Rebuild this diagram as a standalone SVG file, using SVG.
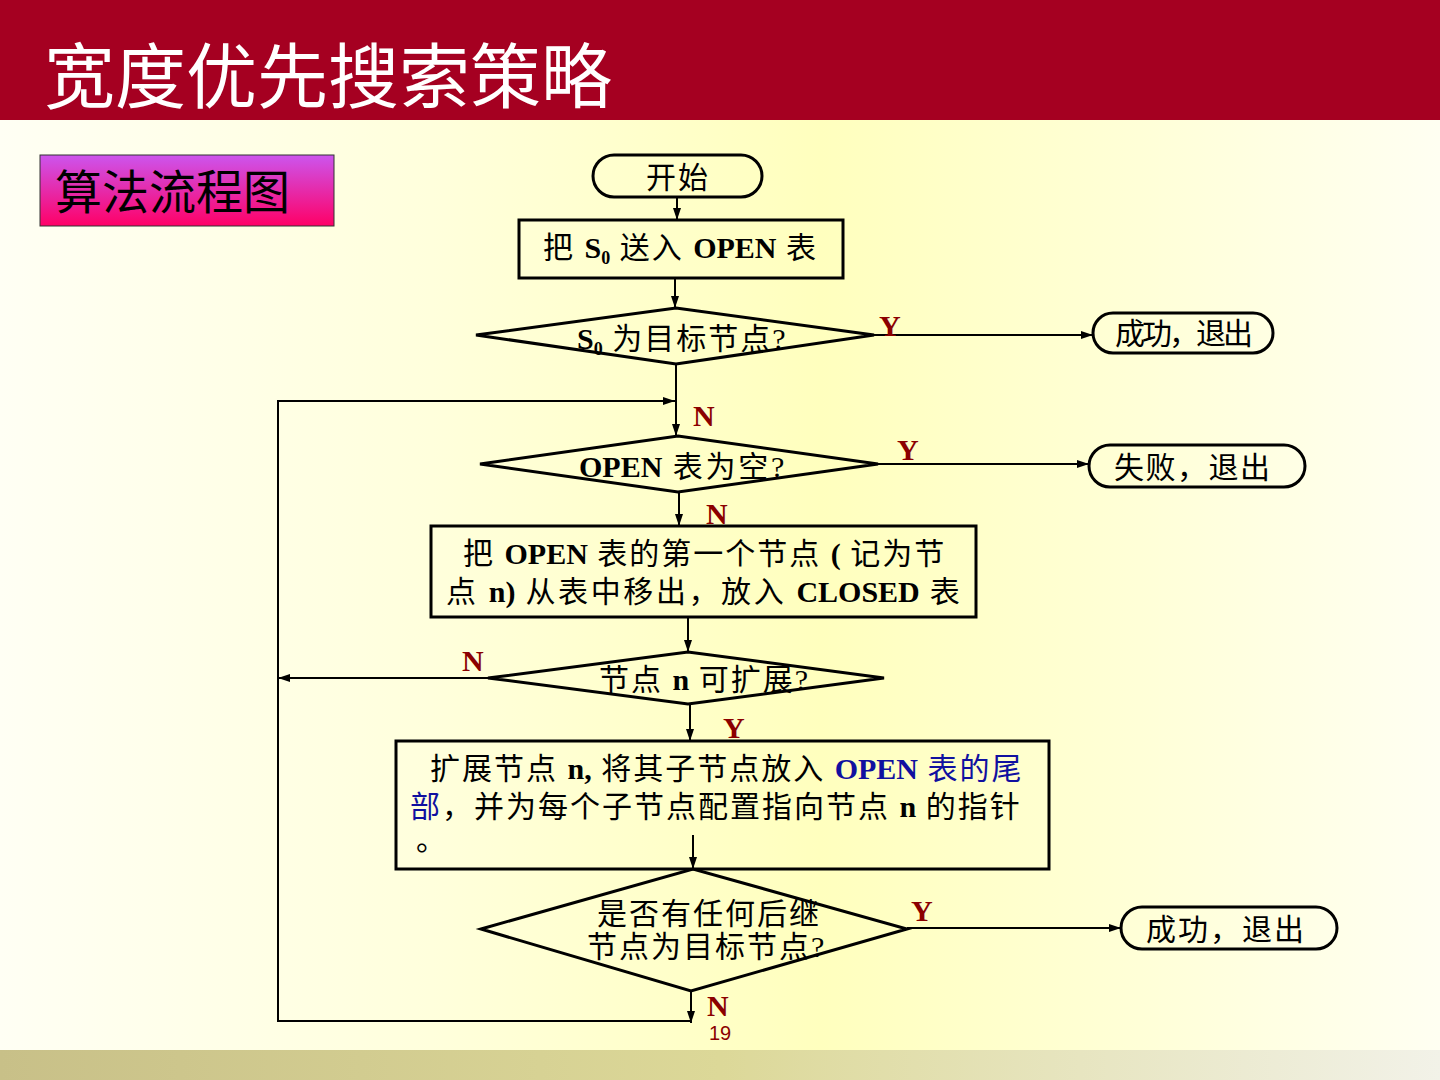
<svg xmlns="http://www.w3.org/2000/svg" width="1440" height="1080" viewBox="0 0 1440 1080">
<defs>
<linearGradient id="bg" x1="0" y1="0" x2="1" y2="0">
<stop offset="0" stop-color="#FFFFF4"/>
<stop offset="0.3" stop-color="#FFFFDC"/>
<stop offset="0.57" stop-color="#FFFFBE"/>
<stop offset="0.8" stop-color="#FFFFD8"/>
<stop offset="1" stop-color="#FFFFF2"/>
</linearGradient>
<linearGradient id="bar" x1="0" y1="0" x2="1" y2="0">
<stop offset="0" stop-color="#C8C088"/>
<stop offset="0.5" stop-color="#DCD898"/>
<stop offset="1" stop-color="#F2F2E8"/>
</linearGradient>
<linearGradient id="tag" x1="0" y1="0" x2="0" y2="1">
<stop offset="0" stop-color="#CC55EE"/>
<stop offset="1" stop-color="#FF0066"/>
</linearGradient>
<marker id="ah" markerUnits="userSpaceOnUse" markerWidth="12" markerHeight="8" refX="12" refY="4" orient="auto">
<path d="M0,0 L12,4 L0,8 z" fill="#000"/>
</marker>
<style>
.sh{fill:none;stroke:#000;stroke-width:3}
.box{fill:none;stroke:#000;stroke-width:3}
.cn{fill:none;stroke:#000;stroke-width:2;marker-end:url(#ah)}
.t{font-family:"Liberation Serif","Noto Sans CJK SC",serif;font-size:30px;fill:#000;letter-spacing:2px}
.ts{font-family:"Liberation Sans","Noto Sans CJK SC",sans-serif;font-size:30px;fill:#000}
.b{font-weight:bold;letter-spacing:0}
.yn{font-family:"Liberation Serif",serif;font-size:30px;font-weight:bold;fill:#8B0000}
.blue{fill:#1010A0}
</style>
</defs>
<rect x="0" y="0" width="1440" height="1080" fill="url(#bg)"/>
<rect x="0" y="1050" width="1440" height="30" fill="url(#bar)"/>
<rect x="0" y="0" width="1440" height="120" fill="#A50021"/>
<text x="44" y="102" font-family="Noto Sans CJK SC, sans-serif" font-size="71" fill="#FFFFFF" textLength="568" lengthAdjust="spacing">宽度优先搜索策略</text>
<g id="tag-box">
<rect x="40" y="155" width="294" height="71" fill="url(#tag)" stroke="#333" stroke-width="1"/>
<text x="55" y="209" font-family="Noto Sans CJK SC, sans-serif" font-size="47" fill="#000">算法流程图</text>
</g>
<g id="connectors">
<line class="cn" x1="677" y1="197" x2="677" y2="220"/>
<line class="cn" x1="675" y1="278" x2="675" y2="308"/>
<line class="cn" x1="874" y1="335" x2="1093" y2="335"/>
<line class="cn" x1="676" y1="364" x2="676" y2="436"/>
<line class="cn" x1="878" y1="464" x2="1089" y2="464"/>
<line class="cn" x1="679" y1="492" x2="679" y2="526"/>
<line class="cn" x1="688" y1="617" x2="688" y2="652"/>
<line class="cn" x1="488" y1="678" x2="278" y2="678"/>
<line class="cn" x1="690" y1="704" x2="690" y2="741"/>
<line class="cn" x1="693" y1="835" x2="693" y2="869"/>
<line class="cn" x1="907" y1="928" x2="1121" y2="928"/>
<line class="cn" x1="691" y1="991" x2="691" y2="1023"/>
<polyline class="cn" points="691,1021 278,1021 278,401 675,401"/>
</g>
<g id="labels">
<text class="yn" x="879" y="336">Y</text>
<text class="yn" x="693" y="426">N</text>
<text class="yn" x="897" y="460">Y</text>
<text class="yn" x="706" y="524">N</text>
<text class="yn" x="462" y="671">N</text>
<text class="yn" x="723" y="738">Y</text>
<text class="yn" x="911" y="921">Y</text>
<text class="yn" x="707" y="1016">N</text>
<text x="720" y="1040" font-family="Liberation Sans, sans-serif" font-size="20" fill="#8B0000" text-anchor="middle">19</text>
</g>
<g id="start">
<rect class="sh" x="593" y="155" width="169" height="42" rx="21" ry="21"/>
<text class="ts" x="646" y="188" textLength="62" lengthAdjust="spacing">开始</text>
</g>
<g id="step1">
<rect class="box" x="519" y="220" width="324" height="58"/>
<text class="t" x="543" y="258">把 <tspan class="b">S</tspan><tspan class="b" font-size="18" dy="6">0</tspan><tspan dy="-6"> 送入 </tspan><tspan class="b">OPEN</tspan> 表</text>
</g>
<g id="dec1">
<polygon class="sh" points="476,335 676,308 874,335 676,364"/>
<text class="t" x="577" y="349"><tspan class="b">S</tspan><tspan class="b" font-size="18" dy="6">0</tspan><tspan dy="-6"> 为目标节点?</tspan></text>
</g>
<g id="succ1">
<rect class="sh" x="1093" y="313" width="180" height="40" rx="20" ry="20"/>
<text class="ts" x="1115" y="344" font-size="28" textLength="138" lengthAdjust="spacing">成功，退出</text>
</g>
<g id="dec2">
<polygon class="sh" points="480,464 678,436 878,464 678,492"/>
<text class="t" x="579" y="477" style="letter-spacing:2.8px"><tspan class="b">OPEN</tspan> 表为空?</text>
</g>
<g id="fail">
<rect class="sh" x="1089" y="445" width="216" height="42" rx="21" ry="21"/>
<text class="ts" x="1114" y="478" textLength="156" lengthAdjust="spacing">失败，退出</text>
</g>
<g id="step2">
<rect class="box" x="431" y="526" width="545" height="91"/>
<text class="t" x="463" y="564">把 <tspan class="b">OPEN</tspan> 表的第一个节点 <tspan class="b">(</tspan> 记为节</text>
<text class="t" x="446" y="602" style="letter-spacing:2.6px">点 <tspan class="b">n)</tspan>  从表中移出，放入 <tspan class="b">CLOSED</tspan> 表</text>
</g>
<g id="dec3">
<polygon class="sh" points="488,678 688,652 884,678 688,704"/>
<text class="t" x="599" y="690">节点 <tspan class="b">n</tspan> 可扩展?</text>
</g>
<g id="step3">
<rect class="box" x="396" y="741" width="653" height="128"/>
<text class="t" x="430" y="779">扩展节点 <tspan class="b">n,</tspan> 将其子节点放入 <tspan class="b blue">OPEN</tspan><tspan class="blue"> 表的尾</tspan></text>
<text class="t" x="410" y="817"><tspan class="blue">部</tspan>，并为每个子节点配置指向节点 <tspan class="b">n</tspan> 的指针</text>
<text class="t" x="416" y="850">。</text>
</g>
<g id="dec4">
<polygon class="sh" points="481,929 693,869 907,929 691,991"/>
<text class="t" x="597" y="924">是否有任何后继</text>
<text class="t" x="587" y="957">节点为目标节点?</text>
</g>
<g id="succ2">
<rect class="sh" x="1121" y="907" width="216" height="42" rx="21" ry="21"/>
<text class="ts" x="1146" y="940" textLength="158" lengthAdjust="spacing">成功，退出</text>
</g>
</svg>
